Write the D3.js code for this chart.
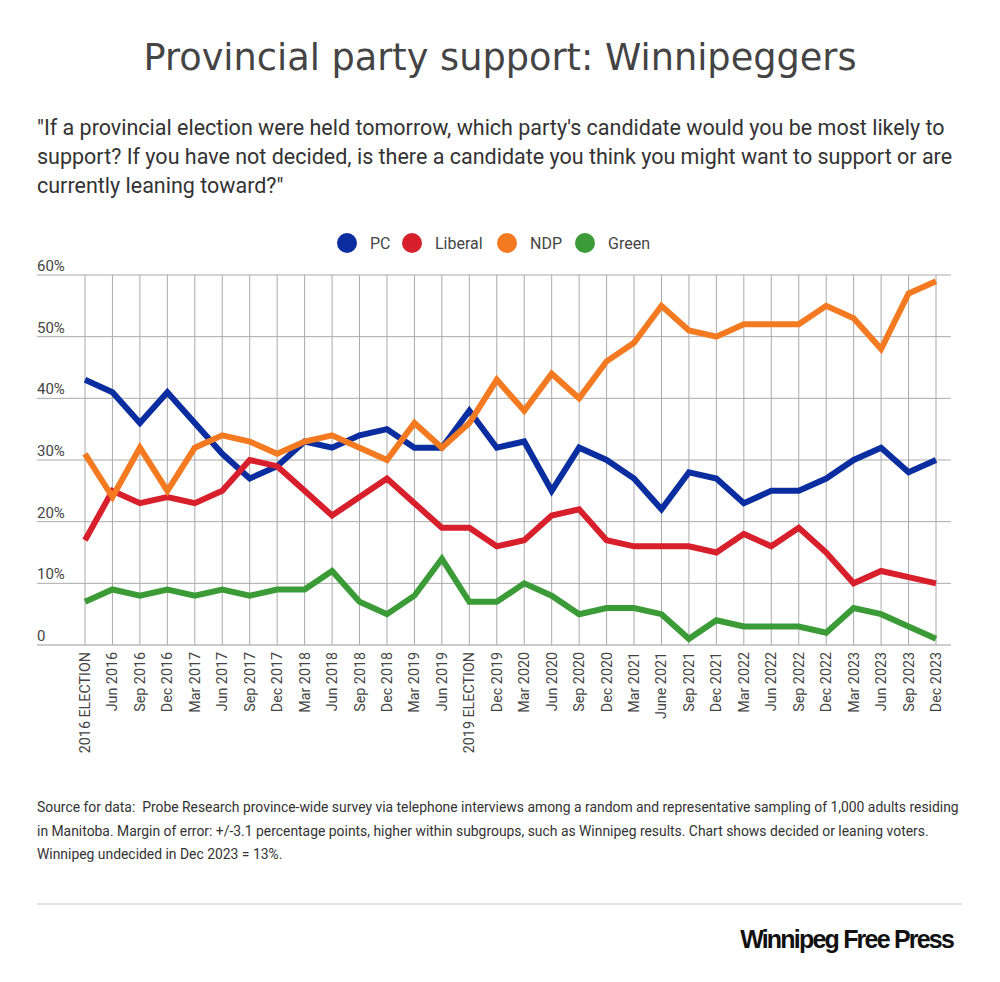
<!DOCTYPE html>
<html lang="en">
<head>
<meta charset="utf-8">
<title>Provincial party support: Winnipeggers</title>
<script src="https://cdn.jsdelivr.net/npm/d3@7"></script>
<style>
  body { margin: 0; background: #fff; }
  svg text { font-family: Roboto, "Noto Sans", sans-serif; }
</style>
</head>
<body>
<div id="chart"></div>
<script>
// poll dates (x categories)
var periods = ["2016 ELECTION", "Jun 2016", "Sep 2016", "Dec 2016", "Mar 2017", "Jun 2017",
  "Sep 2017", "Dec 2017", "Mar 2018", "Jun 2018", "Sep 2018", "Dec 2018", "Mar 2019",
  "Jun 2019", "2019 ELECTION", "Dec 2019", "Mar 2020", "Jun 2020", "Sep 2020", "Dec 2020",
  "Mar 2021", "June 2021", "Sep 2021", "Dec 2021", "Mar 2022", "Jun 2022", "Sep 2022",
  "Dec 2022", "Mar 2023", "Jun 2023", "Sep 2023", "Dec 2023"];

var pc      = [43, 41, 36, 41, 36, 31, 27, 29, 33, 32, 34, 35, 32, 32, 38, 32, 33, 25, 32, 30, 27, 22, 28, 27, 23, 25, 25, 27, 30, 32, 28, 30];
var liberal = [17, 25, 23, 24, 23, 25, 30, 29, 25, 21, 24, 27, 23, 19, 19, 16, 17, 21, 22, 17, 16, 16, 16, 15, 18, 16, 19, 15, 10, 12, 11, 10];
var ndp     = [31, 24, 32, 25, 32, 34, 33, 31, 33, 34, 32, 30, 36, 32, 36, 43, 38, 44, 40, 46, 49, 55, 51, 50, 52, 52, 52, 55, 53, 48, 57, 59];
var green   = [7, 9, 8, 9, 8, 9, 8, 9, 9, 12, 7, 5, 8, 14, 7, 7, 10, 8, 5, 6, 6, 5, 1, 4, 3, 3, 3, 2, 6, 5, 3, 1];

var partyNames  = ["PC", "Liberal", "NDP", "Green"];
var partyColors = ["#0a2ea0", "#d8202c", "#f47a22", "#3b9b37"];
var yTicks = [0, 10, 20, 30, 40, 50, 60];

var series = [pc, liberal, ndp, green];

var W = 1000, H = 982;
var svg = d3.select("#chart").append("svg")
  .attr("width", W).attr("height", H);

// title + question
svg.append("text")
  .attr("x", 500).attr("y", 70)
  .attr("text-anchor", "middle")
  .style("font-family", "'DejaVu Sans', sans-serif")
  .style("font-size", "36.7px")
  .attr("fill", "#444")
  .text("Provincial party support: Winnipeggers");

var question = ["\"If a provincial election were held tomorrow, which party's candidate would you be most likely to",
  "support? If you have not decided, is there a candidate you think you might want to support or are",
  "currently leaning toward?\""];
svg.append("g").selectAll("text").data(question).enter().append("text")
  .attr("x", 37).attr("y", function(d, i) { return 135 + i * 29; })
  .style("font-size", "21.5px")
  .attr("fill", "#333")
  .text(function(d) { return d; });

// legend
var legendX = [347, 412, 507, 585];
var leg = svg.append("g").selectAll("g").data(partyNames).enter().append("g")
  .attr("transform", function(d, i) { return "translate(" + legendX[i] + ",243)"; });
leg.append("circle").attr("r", 10).attr("fill", function(d, i) { return partyColors[i]; });
leg.append("text").attr("x", 23).attr("y", 6)
  .style("font-size", "16px").attr("fill", "#444")
  .text(function(d) { return d; });

// scales
var x = d3.scalePoint().domain(periods).range([85, 936]);
var y = d3.scaleLinear().domain([0, 60]).range([645, 275]);

var grid = svg.append("g");
grid.selectAll("line.h").data(yTicks).enter().append("line")
  .attr("class", "h")
  .attr("x1", 37).attr("x2", 951)
  .attr("y1", function(d) { return y(d); }).attr("y2", function(d) { return y(d); })
  .attr("stroke", function(d) { return d === 0 ? "#999" : "#aaa"; })
  .attr("stroke-width", 1);
grid.selectAll("line.v").data(periods).enter().append("line")
  .attr("class", "v")
  .attr("x1", function(d) { return x(d); }).attr("x2", function(d) { return x(d); })
  .attr("y1", y(60)).attr("y2", y(0))
  .attr("stroke", "#aaa").attr("stroke-width", 1);

// y labels sit above their gridline
grid.selectAll("text.yl").data(yTicks).enter().append("text")
  .attr("class", "yl")
  .attr("x", 37).attr("y", function(d) { return y(d) - 4; })
  .style("font-size", "15px").attr("fill", "#444")
  .text(function(d) { return d === 0 ? "0" : d + "%"; });

// x labels, rotated
svg.append("g").selectAll("text").data(periods).enter().append("text")
  .attr("transform", function(d) { return "translate(" + (x(d) + 5) + ",652) rotate(-90)"; })
  .attr("text-anchor", "end")
  .style("font-size", "14.3px").attr("fill", "#444")
  .text(function(d) { return d; });

// party lines
var line = d3.line()
  .x(function(d, i) { return x(periods[i]); })
  .y(function(d) { return y(d); });

svg.append("g").selectAll("path").data(series).enter().append("path")
  .attr("d", line)
  .attr("fill", "none")
  .attr("stroke", function(d, i) { return partyColors[i]; })
  .attr("stroke-width", 6)
  .attr("stroke-linejoin", "miter");

// source note
var notes = ["Source for data:  Probe Research province-wide survey via telephone interviews among a random and representative sampling of 1,000 adults residing",
  "in Manitoba. Margin of error: +/-3.1 percentage points, higher within subgroups, such as Winnipeg results. Chart shows decided or leaning voters.",
  "Winnipeg undecided in Dec 2023 = 13%."];
svg.append("g").selectAll("text").data(notes).enter().append("text")
  .attr("x", 37).attr("y", function(d, i) { return 812 + i * 23.5; })
  .style("font-size", "13.9px").attr("fill", "#333")
  .style("white-space", "pre")
  .text(function(d) { return d; });

svg.append("line")
  .attr("x1", 37).attr("x2", 962).attr("y1", 904).attr("y2", 904)
  .attr("stroke", "#e2e2e2").attr("stroke-width", 2);

svg.append("text")
  .attr("x", 953).attr("y", 948)
  .attr("text-anchor", "end")
  .style("font-family", "'Liberation Sans Narrow', 'Liberation Sans', sans-serif")
  .style("font-weight", "bold")
  .style("font-size", "25px")
  .style("letter-spacing", "-1.8px")
  .attr("fill", "#111")
  .text("Winnipeg Free Press");
</script>
</body>
</html>
